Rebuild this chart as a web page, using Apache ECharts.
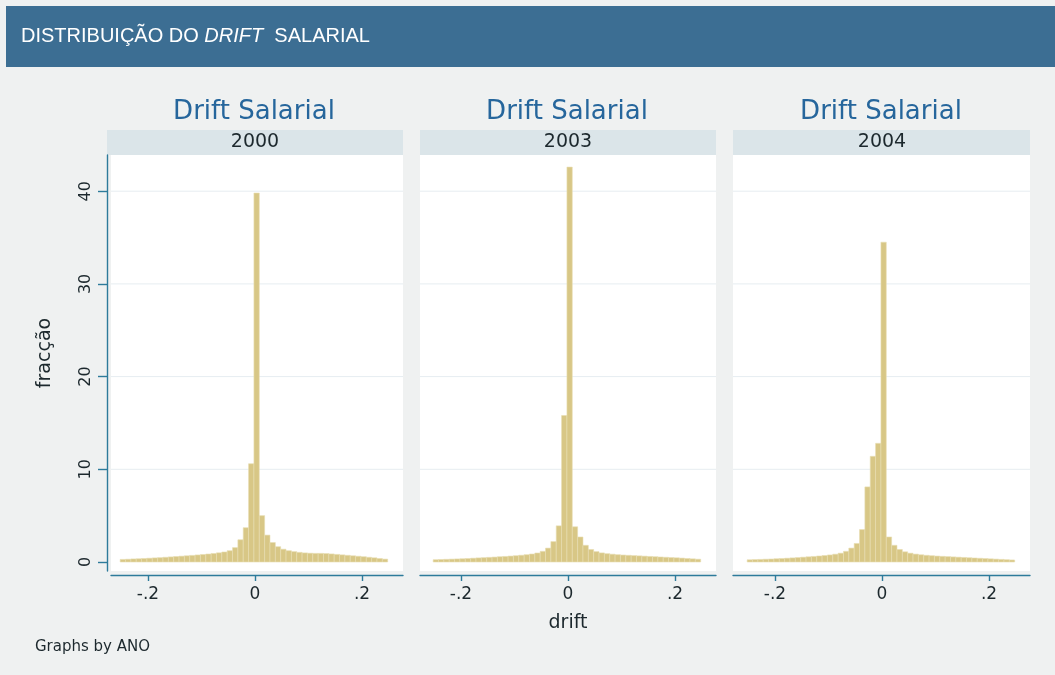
<!DOCTYPE html>
<html>
<head>
<meta charset="utf-8">
<script src="https://cdn.jsdelivr.net/npm/echarts@6/dist/echarts.min.js"></script>
<style>
html,body{margin:0;padding:0;background:#ffffff;}
#c{width:1055px;height:675px;}
</style>
</head>
<body>
<div id="c"></div>
<script>
// ---------------- data ----------------
const years = ['2000', '2003', '2004'];
const binStart = -0.252;   // left edge of first histogram bin (drift)
const binWidth = 0.01;     // histogram bin width (drift)

const frac2000 = [0.28,0.30,0.33,0.35,0.38,0.41,0.44,0.47,0.51,0.55,
                  0.59,0.63,0.67,0.71,0.76,0.81,0.86,0.92,0.99,1.08,
                  1.22,1.55,2.4,3.7,10.6,39.8,5.0,2.9,2.1,1.65,
                  1.38,1.22,1.12,1.04,0.98,0.95,0.93,0.93,0.91,0.87,
                  0.82,0.77,0.72,0.67,0.62,0.57,0.51,0.45,0.38,0.31];
const frac2003 = [0.25,0.27,0.29,0.31,0.33,0.35,0.38,0.41,0.44,0.47,
                  0.50,0.53,0.57,0.60,0.64,0.68,0.73,0.79,0.86,0.97,
                  1.15,1.5,2.2,3.9,15.8,42.6,3.8,2.7,1.8,1.35,
                  1.12,0.98,0.90,0.84,0.79,0.75,0.72,0.69,0.66,0.63,
                  0.60,0.57,0.54,0.51,0.48,0.45,0.42,0.38,0.34,0.30];
const frac2004 = [0.24,0.26,0.28,0.30,0.32,0.35,0.38,0.41,0.44,0.48,
                  0.52,0.56,0.60,0.65,0.70,0.76,0.84,0.95,1.15,1.5,
                  2.0,3.5,8.1,11.4,12.8,34.5,2.7,1.8,1.35,1.1,
                  0.95,0.85,0.78,0.72,0.68,0.64,0.61,0.58,0.55,0.52,
                  0.49,0.46,0.43,0.40,0.37,0.34,0.31,0.28,0.25,0.22];

const xTicks = [-0.2, 0, 0.2];
const xTickLabels = ['-.2', '0', '.2'];
const yTicks = [0, 10, 20, 30, 40];
const yTickLabels = ['0', '10', '20', '30', '40'];
const gridTicks = [10, 20, 30, 40];

const panelTitle = 'Drift Salarial';
const yTitle = 'fracção';
const xTitle = 'drift';
const note = 'Graphs by ANO';

// ---------------- layout ----------------
const series_values = [frac2000, frac2003, frac2004];
const PX_PER_UNIT = 535;          // x scale (pixels per drift unit)
const panels = [
  {left: 111, right: 403, zero: 255},
  {left: 420, right: 716, zero: 568},
  {left: 733, right: 1030, zero: 882}
];
const stripBox = [[107, 403], [420, 716], [733, 1030]];
const GRID_TOP = 155, GRID_BOTTOM_Y = 571;
const Y_MIN = -0.971, Y_MAX = 43.905;

const FONT = 'DejaVu Sans';
const AXIS_COLOR = '#2d7b9b';
const TEXT_COLOR = '#1c282d';
const BAR_FILL = '#d8c786';
const BAR_STROKE = '#e7ddb2';

function binRows(vals) {
  return vals.map((v, k) => [binStart + k * binWidth, binStart + (k + 1) * binWidth, v]);
}

const grids = [], xAxes = [], yAxes = [], series = [];
panels.forEach((p, i) => {
  grids.push({
    left: p.left, top: GRID_TOP, width: p.right - p.left,
    height: GRID_BOTTOM_Y - GRID_TOP,
    show: true, backgroundColor: '#ffffff', borderWidth: 0
  });
  xAxes.push({
    gridIndex: i, type: 'value',
    min: (p.left - p.zero) / PX_PER_UNIT,
    max: (p.right - p.zero) / PX_PER_UNIT,
    offset: 4,
    axisLine: {show: true, onZero: false, lineStyle: {color: AXIS_COLOR, width: 1.4}},
    axisTick: {show: true, customValues: xTicks, length: 6, lineStyle: {color: AXIS_COLOR, width: 1.4}},
    axisLabel: {
      customValues: xTicks,
      formatter: v => xTickLabels[xTicks.indexOf(v)],
      fontSize: 17, fontFamily: FONT, color: TEXT_COLOR, margin: 11
    },
    splitLine: {show: false}
  });
  yAxes.push({
    gridIndex: i, type: 'value', min: Y_MIN, max: Y_MAX,
    show: i === 0,
    offset: 4,
    axisLine: {show: true, onZero: false, lineStyle: {color: AXIS_COLOR, width: 1.4}},
    axisTick: {show: true, customValues: yTicks, length: 9, lineStyle: {color: AXIS_COLOR, width: 1.4}},
    axisLabel: {
      customValues: yTicks,
      formatter: v => yTickLabels[yTicks.indexOf(v)],
      rotate: 90, fontSize: 16, fontFamily: FONT, color: TEXT_COLOR, margin: 13
    },
    splitLine: {show: false}
  });
  // faint horizontal grid lines
  series.push({
    type: 'custom', xAxisIndex: i, yAxisIndex: i, z: 1, silent: true,
    data: gridTicks.map(v => [0, v]),
    encode: {x: 0, y: 1},
    renderItem: (params, api) => {
      const cs = params.coordSys;
      const y = api.coord([0, api.value(1)])[1];
      return {type: 'line', shape: {x1: cs.x, y1: y, x2: cs.x + cs.width, y2: y},
              style: {stroke: '#e6edf1', lineWidth: 1}};
    }
  });
  // histogram bars
  series.push({
    type: 'custom', xAxisIndex: i, yAxisIndex: i, z: 2, silent: true,
    data: binRows(series_values[i]),
    encode: {x: [0, 1], y: 2},
    renderItem: (params, api) => {
      const p0 = api.coord([api.value(0), 0]);
      const p1 = api.coord([api.value(1), api.value(2)]);
      return {type: 'rect',
              shape: {x: p0[0], y: p1[1], width: p1[0] - p0[0], height: p0[1] - p1[1]},
              style: {fill: BAR_FILL, stroke: BAR_STROKE, lineWidth: 0.6}};
    }
  });
});

const graphics = [
  {type: 'rect', shape: {x: 6, y: 6, width: 1049, height: 61}, style: {fill: '#3c6e93'}},
  {type: 'text', x: 21, y: 36,
   style: {
     text: '{a|DISTRIBUIÇÃO DO }{b|DRIFT}{a|  SALARIAL}',
     verticalAlign: 'middle',
     rich: {
       a: {fontFamily: 'Liberation Sans', fontSize: 20, fill: '#ffffff'},
       b: {fontFamily: 'Liberation Sans', fontSize: 20, fontStyle: 'italic', fill: '#ffffff'}
     }
   }}
];
stripBox.forEach((b, i) => {
  const cx = panels[i].zero;
  graphics.push({type: 'rect', shape: {x: b[0], y: 130, width: b[1] - b[0], height: 25},
                 style: {fill: '#dbe5e9'}});
  graphics.push({type: 'text', x: cx, y: 142, style: {text: years[i], fontFamily: FONT, fontSize: 19,
                 fill: TEXT_COLOR, align: 'center', verticalAlign: 'middle'}});
  graphics.push({type: 'text', x: cx - 1, y: 112, style: {text: panelTitle, fontFamily: FONT, fontSize: 26,
                 fill: '#26669c', align: 'center', verticalAlign: 'middle'}});
});
graphics.push({type: 'text', x: 45, y: 353, rotation: Math.PI / 2,
               style: {text: yTitle, fontFamily: FONT, fontSize: 19, fill: TEXT_COLOR,
                       align: 'center', verticalAlign: 'middle'}});
graphics.push({type: 'text', x: 568, y: 623,
               style: {text: xTitle, fontFamily: FONT, fontSize: 19, fill: TEXT_COLOR,
                       align: 'center', verticalAlign: 'middle'}});
graphics.push({type: 'text', x: 35, y: 647,
               style: {text: note, fontFamily: FONT, fontSize: 15, fill: TEXT_COLOR,
                       align: 'left', verticalAlign: 'middle'}});

const chart = echarts.init(document.getElementById('c'), null, {renderer: 'canvas'});
chart.setOption({
  backgroundColor: '#eff1f1',
  animation: false,
  grid: grids,
  xAxis: xAxes,
  yAxis: yAxes,
  series: series,
  graphic: graphics
});
</script>
</body>
</html>
